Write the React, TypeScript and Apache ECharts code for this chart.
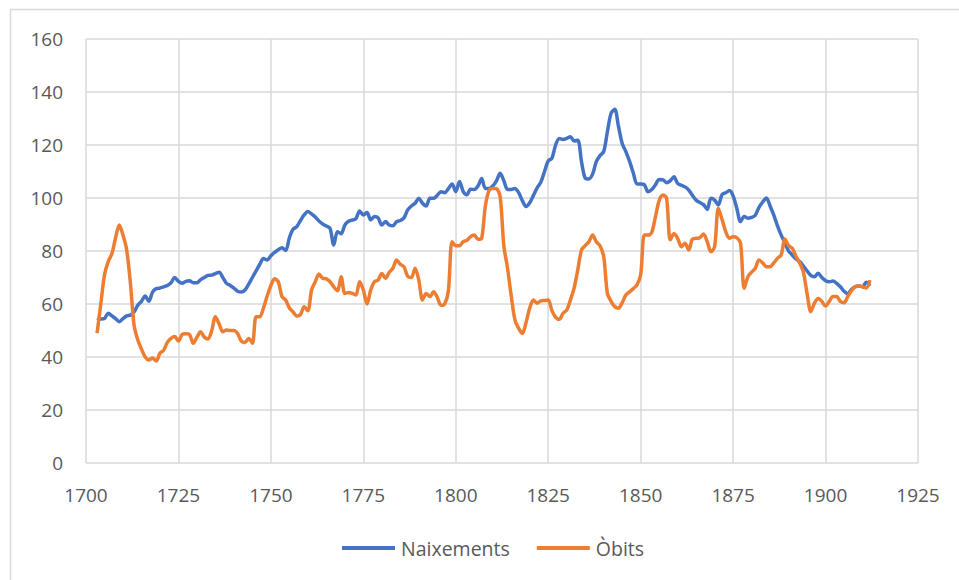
import React, { useEffect, useRef } from "react";
import * as echarts from "echarts";

const years: number[] = [];
for (let y = 1703; y <= 1912; y++) years.push(y);

const naixements: number[] = [
  54.7, 54.3, 54.5, 56.5, 55.5, 54.5, 53.3, 54.5, 55.5, 55.8, // 1703-1712
  57, 59.5, 61, 63, 61, 64.5, 65.8, 66, 66.5, 67, // 1713-1722
  68, 70, 68.5, 67.8, 68.5, 68.8, 68, 68, 69.2, 70, // 1723-1732
  70.8, 70.9, 71.5, 72, 70, 67.8, 67, 66, 64.8, 64.5, // 1733-1742
  65.3, 67.5, 70, 72.5, 75, 77.2, 76.6, 78.2, 79.5, 80.5, // 1743-1752
  81.2, 80.2, 85, 88.2, 89.2, 91.5, 93.6, 94.9, 94, 92.8, // 1753-1762
  91.3, 90.2, 89.4, 88.5, 82.3, 87.3, 86.5, 89.8, 91.2, 91.7, // 1763-1772
  92.2, 95.1, 93.6, 94.5, 91.7, 93, 92.5, 89.8, 91.1, 89.8, // 1773-1782
  89.5, 91.1, 91.5, 92.5, 95.5, 97, 98, 99.9, 98, 97, // 1783-1792
  99.9, 99.9, 101, 102.4, 102, 103.5, 105.3, 102.4, 106.2, 102.5, // 1793-1802
  101.2, 103.3, 103.2, 104.5, 107.4, 103.6, 103.6, 104.5, 106.5, 109.3, // 1803-1812
  106.5, 103.2, 103.2, 103.6, 102, 99, 96.8, 98.2, 101, 103.8, // 1813-1822
  106, 110, 114, 115, 120, 122.5, 122.1, 122.5, 123.1, 121.5, // 1823-1832
  121.8, 113.7, 107.5, 107.2, 109, 113.7, 116, 117.5, 125, 132, // 1833-1842
  133.5, 127, 120.6, 117.5, 113.8, 109.5, 105.3, 105.3, 105, 102.4, // 1843-1852
  103.2, 105, 107, 106.9, 105.8, 106.5, 108, 105.5, 104.8, 104.2, // 1853-1862
  103, 101, 99.2, 98.3, 97.5, 95.7, 99.9, 99.2, 97.4, 101.3, // 1863-1872
  102, 102.8, 100.8, 96.1, 91.1, 93, 92.4, 92.7, 93.5, 96.5, // 1873-1882
  98.5, 100, 97, 93.5, 89.5, 86, 83, 80, 78.5, 77, // 1883-1892
  76, 74.3, 72.5, 70.8, 70.3, 71.6, 70, 68.8, 68.4, 68.7, // 1893-1902
  67.8, 66.5, 64.8, 63.8, 65.5, 66.5, 66.8, 66.5, 68.2, 66.8, // 1903-1912
];

const obits: number[] = [
  49, 60, 71, 76, 79, 85, 89.8, 86, 80.4, 68, // 1703-1712
  52, 46.5, 43, 40, 38.9, 39.6, 38.5, 41.4, 42.5, 45.5, // 1713-1722
  47, 47.7, 46, 48.5, 48.8, 48.5, 45.2, 47.5, 49.5, 47.5, // 1723-1732
  46.8, 50, 55.2, 52.5, 49.5, 50.2, 50, 50, 48.9, 46, // 1733-1742
  45.5, 47, 45.2, 55.2, 55.2, 58.5, 63, 67, 69.5, 68.4, // 1743-1752
  62.8, 61.5, 58.5, 57, 55.5, 56, 59, 57.5, 65.3, 68.4, // 1753-1762
  71.3, 69.7, 69.5, 68.4, 66.5, 65, 70.3, 64, 64.3, 64, // 1763-1772
  63.4, 68.4, 65.3, 60, 65.3, 68.4, 69, 71.5, 69.7, 72, // 1773-1782
  73.5, 76.6, 75, 74, 70.5, 70, 73.5, 69, 61.5, 64, // 1783-1792
  62.8, 64.6, 62.5, 59.5, 60, 65, 83.5, 82, 82, 83.5, // 1793-1802
  84, 85.4, 86, 84.4, 84.8, 97, 102.8, 103.6, 103.5, 100.5, // 1803-1812
  82, 73.5, 63, 54, 50.8, 48.9, 53, 58.5, 61.5, 60.3, // 1813-1822
  61.2, 61.3, 61.5, 57.5, 55, 54.2, 56.5, 57.7, 61.5, 66, // 1823-1832
  73, 80.4, 82, 83.5, 86, 83.5, 82, 78, 64, 61, // 1833-1842
  59, 58.4, 60.5, 63.4, 64.6, 65.8, 67.2, 71, 86, 86, // 1843-1852
  87, 93, 99, 101.1, 100, 84.2, 86.5, 84.8, 81.6, 82.9, // 1853-1862
  80.4, 84.5, 84.8, 85, 86.4, 83.5, 79.7, 81.6, 96.1, 92, // 1863-1872
  87.3, 84.8, 85.4, 85, 83, 65.9, 70.3, 72, 73.5, 76.6, // 1873-1882
  75.5, 74.1, 74.1, 75.5, 77.2, 78.5, 84.5, 82, 81, 78, // 1883-1892
  75.5, 72, 64, 57.1, 60.3, 62.1, 61, 59.2, 61, 62.8, // 1893-1902
  62.8, 61, 60.5, 62.8, 65, 66.5, 66.8, 66.5, 66, 69, // 1903-1912
];

const seriesNames = ["Naixements", "Òbits"];
const colors = ["#4472C4", "#ED7D31"];

const FONT = "'Open Sans', sans-serif";

export default function App() {
  const ref = useRef<HTMLDivElement>(null);
  useEffect(() => {
    document.body.style.margin = "0";
    const chart = echarts.init(ref.current!, undefined, { renderer: "svg" });
    const toPairs = (vals: number[]) => years.map((y, i) => [y, vals[i]]);
    chart.setOption({
      animation: false,
      backgroundColor: "#ffffff",
      textStyle: { fontFamily: FONT },
      graphic: [
        {
          type: "rect",
          shape: { x: 10.5, y: 9.5, width: 1000, height: 700 },
          style: { fill: "none", stroke: "#d9d9d9", lineWidth: 1.5 },
          silent: true,
        },
      ],
      grid: { left: 86, top: 39, right: 41, bottom: 117, containLabel: false },
      xAxis: {
        type: "value",
        min: 1700,
        max: 1925,
        interval: 25,
        axisLine: { show: false },
        axisTick: { show: false },
        splitLine: { show: true, lineStyle: { color: "#d9d9d9", width: 1.5 } },
        axisLabel: {
          color: "#595959",
          fontSize: 19,
          fontFamily: FONT,
          margin: 22,
          formatter: (v: number) => String(v),
        },
      },
      yAxis: {
        type: "value",
        min: 0,
        max: 160,
        interval: 20,
        axisLine: { show: false },
        axisTick: { show: false },
        splitLine: { show: true, lineStyle: { color: "#d9d9d9", width: 1.5 } },
        axisLabel: { color: "#595959", fontSize: 19, fontFamily: FONT, margin: 23 },
      },
      legend: {
        data: seriesNames,
        left: 337,
        top: 533,
        icon: "rect",
        itemWidth: 53,
        itemHeight: 4,
        itemGap: 27,
        textStyle: { color: "#595959", fontSize: 19.5, fontFamily: FONT, padding: [0, 0, 0, 1] },
      },
      series: [
        {
          name: seriesNames[0],
          type: "line",
          data: toPairs(naixements),
          smooth: 0.3,
          symbol: "none",
          lineStyle: { color: colors[0], width: 3.5 },
          itemStyle: { color: colors[0] },
        },
        {
          name: seriesNames[1],
          type: "line",
          data: toPairs(obits),
          smooth: 0.3,
          symbol: "none",
          lineStyle: { color: colors[1], width: 3.5 },
          itemStyle: { color: colors[1] },
        },
      ],
    });
    return () => chart.dispose();
  }, []);
  return <div ref={ref} style={{ width: 959, height: 580 }} />;
}
